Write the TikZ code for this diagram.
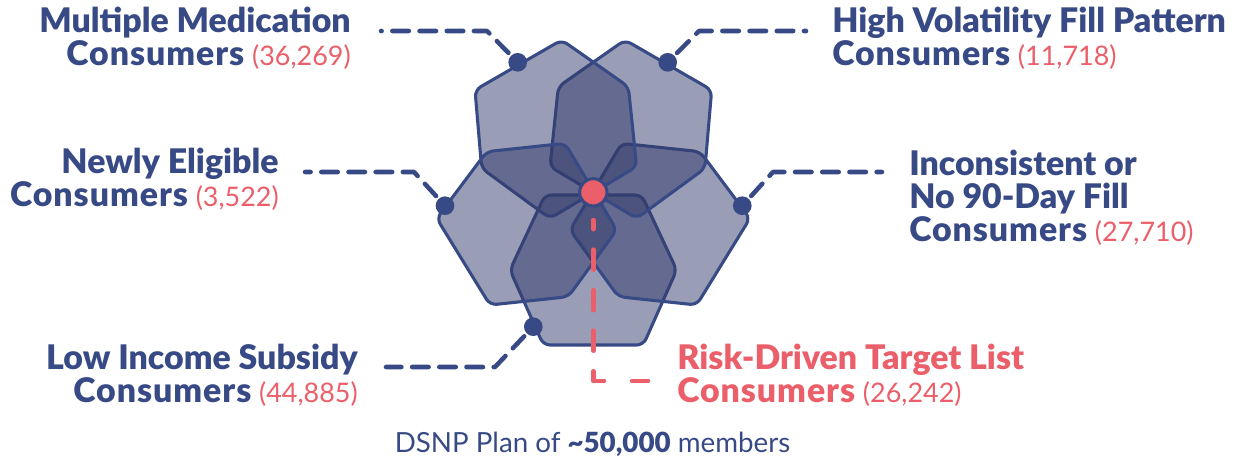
\documentclass[tikz,border=0pt]{standalone}
\usepackage{fontspec}
\setmainfont[BoldFont={Lato Black}]{Lato}
\definecolor{navy}{HTML}{384A85}
\definecolor{hexfill}{HTML}{333B6B}
\definecolor{coral}{HTML}{EA5F69}
\newcommand{\cnt}[1]{{\fontsize{20.2}{24}\selectfont\mdseries\color{coral}#1}}
\newcommand{\cons}{{\addfontfeature{LetterSpace=2.8}Consumers}}
\tikzset{
  x=0.75pt,y=-0.75pt,
  hex/.style={draw=navy,line width=2.3pt,fill=hexfill,fill opacity=0.5,rounded corners=5pt,line join=round},
  dotn/.style={circle,fill=navy,inner sep=0pt,minimum size=14pt},
  hub/.style={circle,fill=coral,draw=navy,line width=2.3pt,inner sep=0pt,minimum size=20.5pt},
  leader/.style={draw=navy,line width=3.4pt,line cap=round,line join=round,dash pattern=on 12.4pt off 8pt,dash phase=10.5pt},
  redleader/.style={draw=coral,line width=3.4pt,line cap=round,line join=round,dash pattern=on 0pt off 20.8pt on 6.8pt off 15.4pt on 15pt off 15.4pt on 15pt off 15.4pt on 15pt off 15.4pt on 15.4pt off 21pt on 11pt},
  lab/.style={inner sep=0pt,text=navy,font=\fontsize{25.4}{24.75}\selectfont\bfseries},
}
\begin{document}
\begin{tikzpicture}
\useasboundingbox (0,0) rectangle (1240,458);
% hexagons
\begin{scope}[shift={(430,30)},x=0.25pt,y=-0.25pt]
\path[hex] (340,945)--(640,945)--(740,720)--(635,495)--(345,495)--(240,720)--cycle;
\path[hex] (575,340)--(810,365)--(960,565)--(800,825)--(565,800)--(420,600)--cycle;
\path[hex] (585,30)--(845,180)--(825,415)--(620,565)--(360,410)--(385,170)--cycle;
\path[hex] (395,30)--(135,180)--(155,415)--(360,565)--(620,410)--(595,170)--cycle;
\path[hex] (405,340)--(170,365)--(20,565)--(180,825)--(415,800)--(560,600)--cycle;
\end{scope}
% dots
\node[dotn] (d1) at (517.7,62.3) {};
\node[dotn] (d2) at (667.7,62.3) {};
\node[dotn] (d3) at (445,205.7) {};
\node[dotn] (d4) at (742.3,205.7) {};
\node[dotn] (d5) at (533.3,326.7) {};
\node[hub] (hub) at (593.3,192.3) {};
% free ends
\coordinate (e1) at (381,31);
\coordinate (e2) at (806,31);
\coordinate (e3) at (305,172);
\coordinate (e4) at (882,172);
\coordinate (e5) at (386,367);
\coordinate (e6) at (648,381);
\coordinate (b6) at (593.3,381);
\draw[leader] (d1.center) -- (487,31) -- (e1);
\draw[leader] (d2.center) -- (699,31) -- (e2);
\draw[leader] (d3.center) -- (414,172) -- (e3);
\draw[leader] (d4.center) -- (773,172) -- (e4);
\draw[leader] (d5.center) -- (495,367) -- (e5);
\draw[redleader] (hub.center) -- (b6) -- (e6);
% labels
\node[lab,anchor=base east,align=right] (t1) at (351,65.5) {Multiple Medication\\\cons{} \cnt{(36,269)}};
\node[lab,anchor=base west,align=left] (t2) at (832,65.5) {High Volatility Fill Pattern\\\cons{} \cnt{(11,718)}};
\node[lab,anchor=base east,align=right] (t3) at (279,206.5) {Newly Eligible\\\cons{} \cnt{(3,522)}};
\node[lab,anchor=base west,align=left] (t4) at (909,241) {Inconsistent or\\No 90-Day Fill\\\cons{} \cnt{(27,710)}};
\node[lab,anchor=base east,align=right] (t5) at (358,402.5) {Low Income Subsidy\\\cons{} \cnt{(44,885)}};
\node[lab,text=coral,anchor=base west,align=left] (t6) at (677,402) {Risk-Driven Target List\\\cons{} \cnt{(26,242)}};
\node[inner sep=0pt,anchor=base,text=navy,font=\fontsize{20.8}{22}\selectfont] (t7) at (592.5,452) {DSNP Plan of \textbf{\textasciitilde50,000} members};
\end{tikzpicture}
\end{document}
